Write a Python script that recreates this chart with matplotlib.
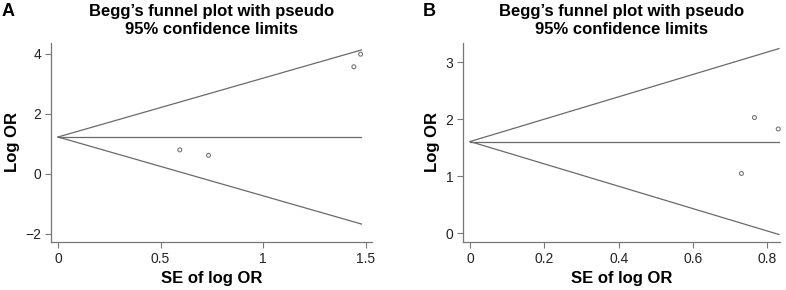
import matplotlib
matplotlib.use("Agg")
import matplotlib.pyplot as plt
import numpy as np

plt.rcParams['font.family'] = ['Liberation Sans', 'DejaVu Sans']

# Panel A data
a_se = [1.476, 1.443, 0.594, 0.734]
a_logor = [3.99, 3.57, 0.80, 0.62]
a_pooled = 1.23
a_semax = 1.48
a_xticks = [0, 0.5, 1, 1.5]
a_xticklabels = ["0", "0.5", "1", "1.5"]
a_yticks = [-2, 0, 2, 4]
a_yticklabels = ["\u22122", "0", "2", "4"]

# Panel B data
b_se = [0.765, 0.829, 0.730]
b_logor = [2.03, 1.83, 1.05]
b_pooled = 1.61
b_semax = 0.831
b_xticks = [0, 0.2, 0.4, 0.6, 0.8]
b_xticklabels = ["0", "0.2", "0.4", "0.6", "0.8"]
b_yticks = [0, 1, 2, 3]
b_yticklabels = ["0", "1", "2", "3"]

title = "Begg\u2019s funnel plot with pseudo\n95% confidence limits"
line_col = "#6a6a6a"

fig = plt.figure(figsize=(7.86, 2.90), dpi=100)

def panel(rect, se, lor, pooled, semax, xt, xtl, yt, ytl, xlim, ylim, letter, letter_x):
    ax = fig.add_axes(rect)
    s = np.array([0, semax])
    ax.plot(s, pooled + 1.96 * s, color=line_col, lw=0.9)
    ax.plot(s, pooled - 1.96 * s, color=line_col, lw=0.9)
    ax.plot(s, [pooled, pooled], color=line_col, lw=0.9)
    ax.scatter(se, lor, s=8, facecolors='none', edgecolors='#777777', linewidths=0.8, zorder=3, clip_on=False)
    ax.set_xlim(*xlim)
    ax.set_ylim(*ylim)
    ax.set_xticks(xt)
    ax.set_xticklabels(xtl)
    ax.set_yticks(yt)
    ax.set_yticklabels(ytl)
    for sp in ['top', 'right']:
        ax.spines[sp].set_visible(False)
    for sp in ['left', 'bottom']:
        ax.spines[sp].set_color('#777777')
        ax.spines[sp].set_linewidth(0.9)
    ax.tick_params(direction='out', length=4, width=0.8, color='#777777',
                   labelsize=10, labelcolor='#222222', pad=3)
    ax.set_xlabel("SE of log OR", fontsize=12, fontweight='bold', labelpad=4)
    ax.set_ylabel("Log OR", fontsize=12, fontweight='bold', labelpad=4)
    ax.set_title(title, fontsize=12, fontweight='bold', pad=6, linespacing=1.3)
    fig.text(letter_x, 0.99, letter, fontsize=13, fontweight='bold', va='top', ha='left')
    return ax

panel([0.0649, 0.1655, 0.408, 0.687], a_se, a_logor, a_pooled, a_semax,
      a_xticks, a_xticklabels, a_yticks, a_yticklabels,
      (-0.034, 1.53), (-2.27, 4.37), "A", 0.002)
panel([0.5895, 0.1655, 0.403, 0.687], b_se, b_logor, b_pooled, b_semax,
      b_xticks, b_xticklabels, b_yticks, b_yticklabels,
      (-0.018, 0.834), (-0.15, 3.34), "B", 0.538)

fig.savefig("out.png", dpi=100)
